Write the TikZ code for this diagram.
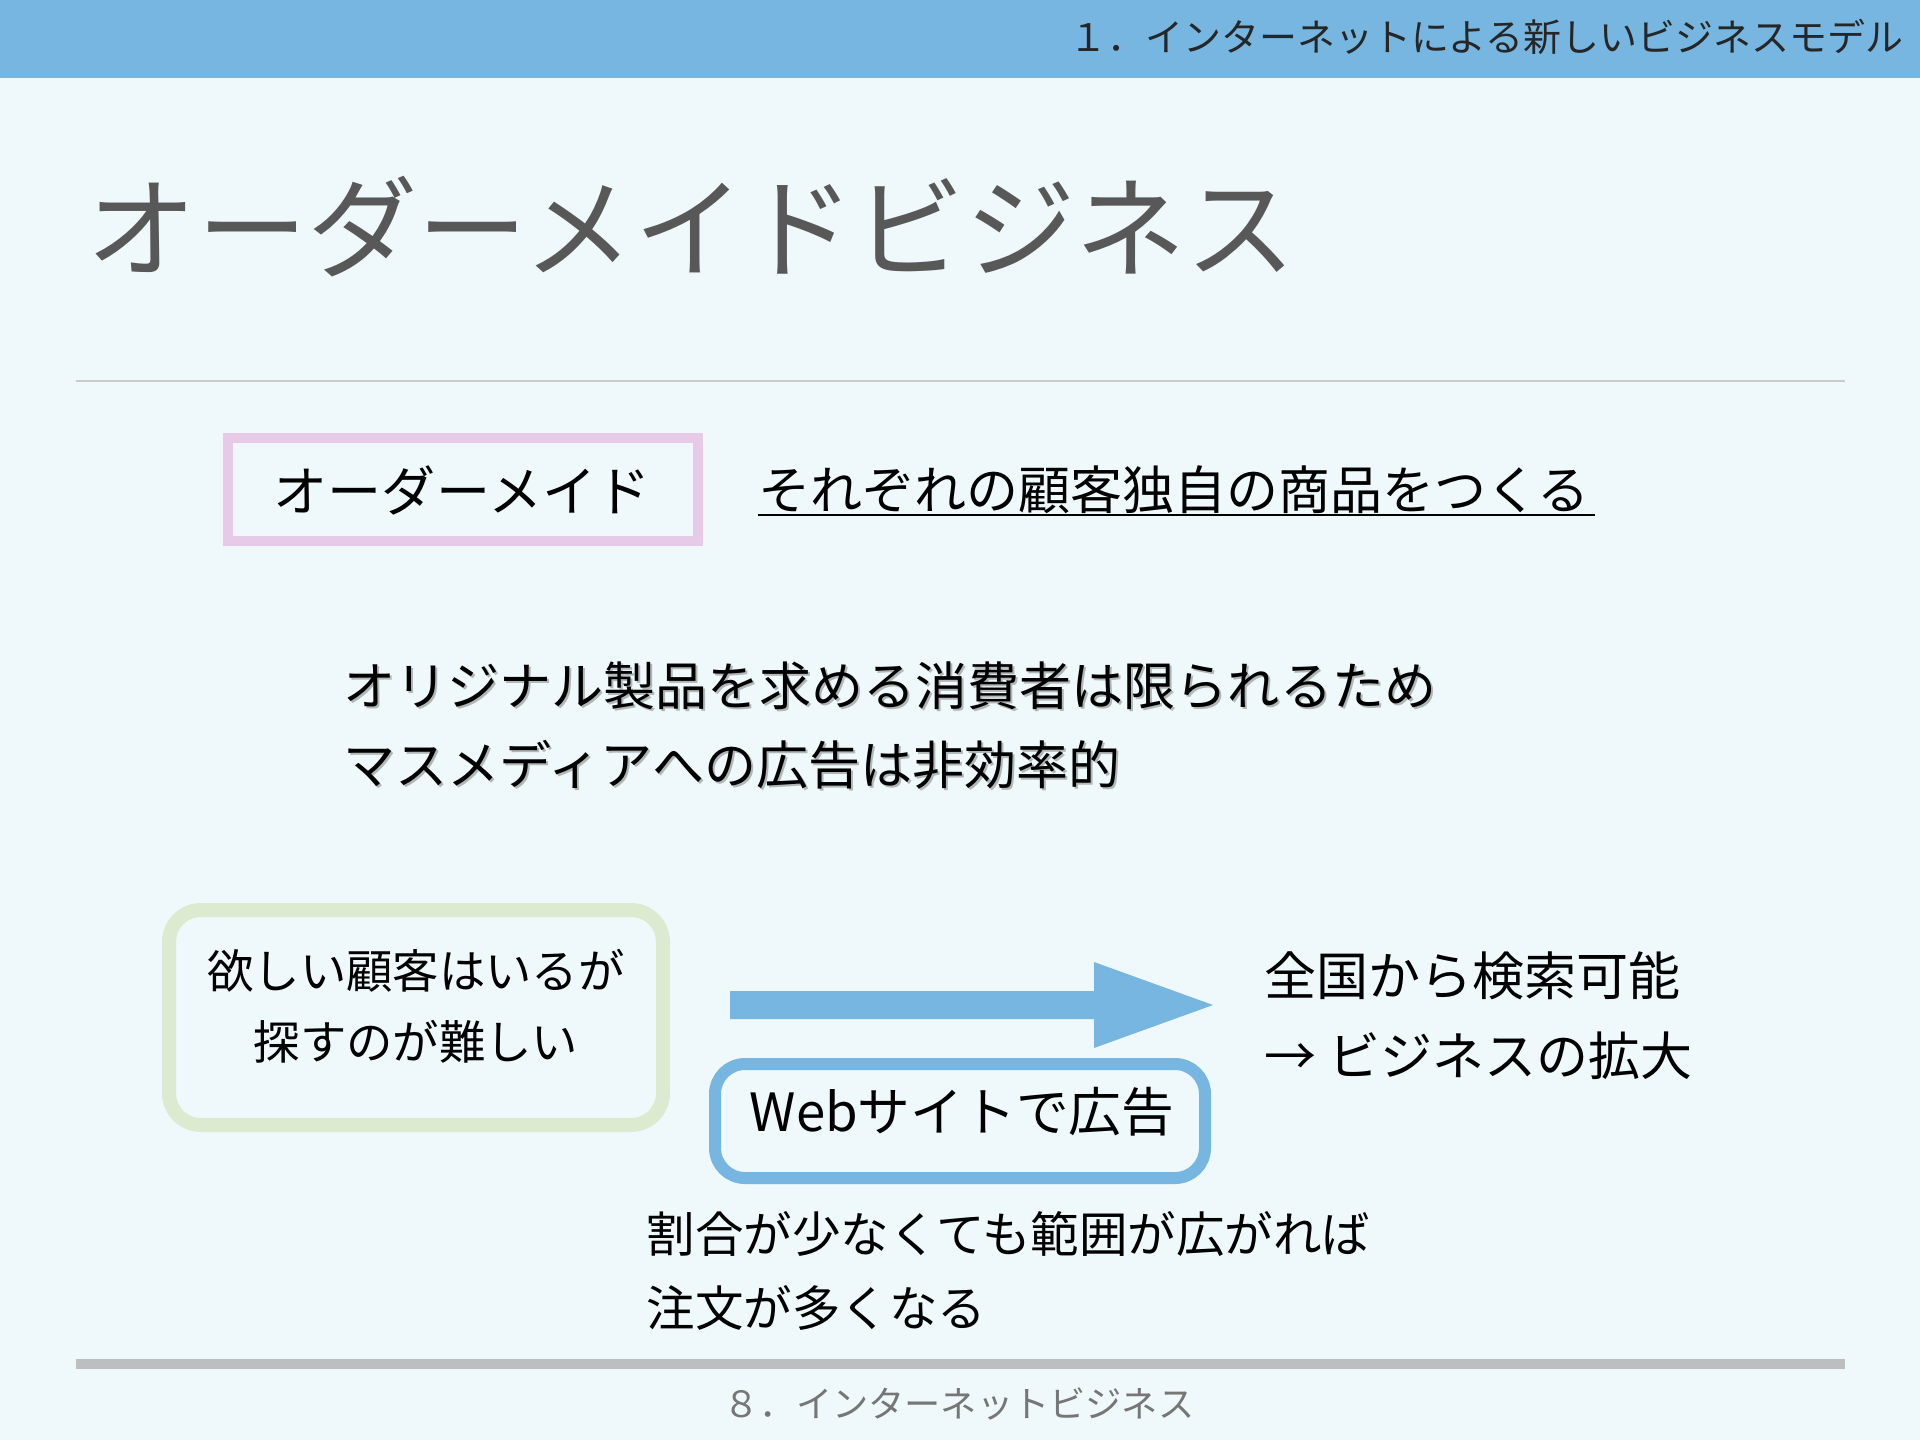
\documentclass[tikz,border=0pt]{standalone}
\usepackage{fontspec}
\setmainfont{Noto Sans CJK JP}
\usepackage{tikz}
\usetikzlibrary{calc,positioning}
\definecolor{barblue}{RGB}{118,182,224}
\definecolor{bgcol}{RGB}{239,248,250}
\definecolor{pinkbox}{RGB}{230,202,232}
\definecolor{greenbox}{RGB}{220,235,207}
\definecolor{rulegray}{RGB}{188,190,192}
\definecolor{thingray}{RGB}{200,202,204}
\definecolor{titlegray}{RGB}{88,88,88}
\definecolor{footgray}{RGB}{118,118,118}
\tikzset{
    txt/.style={inner sep=0pt, text=black},
    shadowtxt/.style={inner sep=0pt, text=black!60, opacity=0.45},
    % font size in pt
    fsz/.style={font=\fontsize{#1pt}{#1pt}\selectfont}
}

\begin{document}
\begin{tikzpicture}[x=1cm,y=-1cm]
    \fill[bgcol] (0,0) rectangle (19.2,14.4);
    \useasboundingbox (0,0) rectangle (19.2,14.4);
    \fill[barblue] (0,0) rectangle (19.2,0.78);
    \node[txt,anchor=east,fsz=10.8,text=black!85] (head) at (19.04,0.37) {１．インターネットによる新しいビジネスモデル};

    \node[txt,anchor=west,fsz=31.4,text=titlegray] (title) at (0.86,2.27) {オーダーメイドビジネス};
    \draw[thingray,line width=0.02cm] (0.76,3.81) -- (18.45,3.81);

    \draw[pinkbox,line width=0.1cm] (2.28,4.38) rectangle (6.98,5.41);
    \node[txt,fsz=15.4] (order) at (4.62,4.90) {オーダーメイド};
    \node[txt,anchor=west,fsz=14.8] (under) at (7.58,4.90) {それぞれの顧客独自の商品をつくる};
    \draw[black,line width=0.025cm] ($(under.base west)+(0,0.05)$) -- ($(under.base east)+(0.04,0.05)$);

    \node[shadowtxt,anchor=west,fsz=14.8] (shadowa) at (3.45,6.88) {オリジナル製品を求める消費者は限られるため};
    \node[shadowtxt,anchor=west,fsz=14.8] (shadowb) at (3.45,7.67) {マスメディアへの広告は非効率的};
    \node[txt,anchor=west,fsz=14.8] (linea) at (3.43,6.86) {オリジナル製品を求める消費者は限られるため};
    \node[txt,anchor=west,fsz=14.8] (lineb) at (3.43,7.65) {マスメディアへの広告は非効率的};

    \draw[greenbox,line width=0.14cm,rounded corners=0.32cm] (1.69,9.10) rectangle (6.63,11.25);
    \node[txt,fsz=13.2] (wanta) at (4.16,9.71) {欲しい顧客はいるが};
    \node[txt,fsz=13.2] (wantb) at (4.16,10.42) {探すのが難しい};

    \fill[barblue] (7.30,9.91) -- (10.94,9.91) -- (10.94,9.62) -- (12.13,10.05)
        -- (10.94,10.48) -- (10.94,10.19) -- (7.30,10.19) -- cycle;

    \draw[barblue,line width=0.12cm,rounded corners=0.3cm] (7.15,10.64) rectangle (12.05,11.78);
    \node[txt,fsz=15] (web) at (9.62,11.12) {Webサイトで広告};

    \node[txt,anchor=west,fsz=14.8] (righta) at (12.64,9.76) {全国から検索可能};
    \node[txt,anchor=west,fsz=14.8] (rightb) at (12.64,10.56) {→ ビジネスの拡大};

    \node[txt,anchor=west,fsz=13.8] (lowa) at (6.46,12.34) {割合が少なくても範囲が広がれば};
    \node[txt,anchor=west,fsz=13.8] (lowb) at (6.46,13.08) {注文が多くなる};

    \draw[rulegray,line width=0.1cm] (0.76,13.64) -- (18.45,13.64);
    \node[txt,fsz=10.3,text=footgray] (foot) at (9.59,14.04) {８．インターネットビジネス};
\end{tikzpicture}
\end{document}
